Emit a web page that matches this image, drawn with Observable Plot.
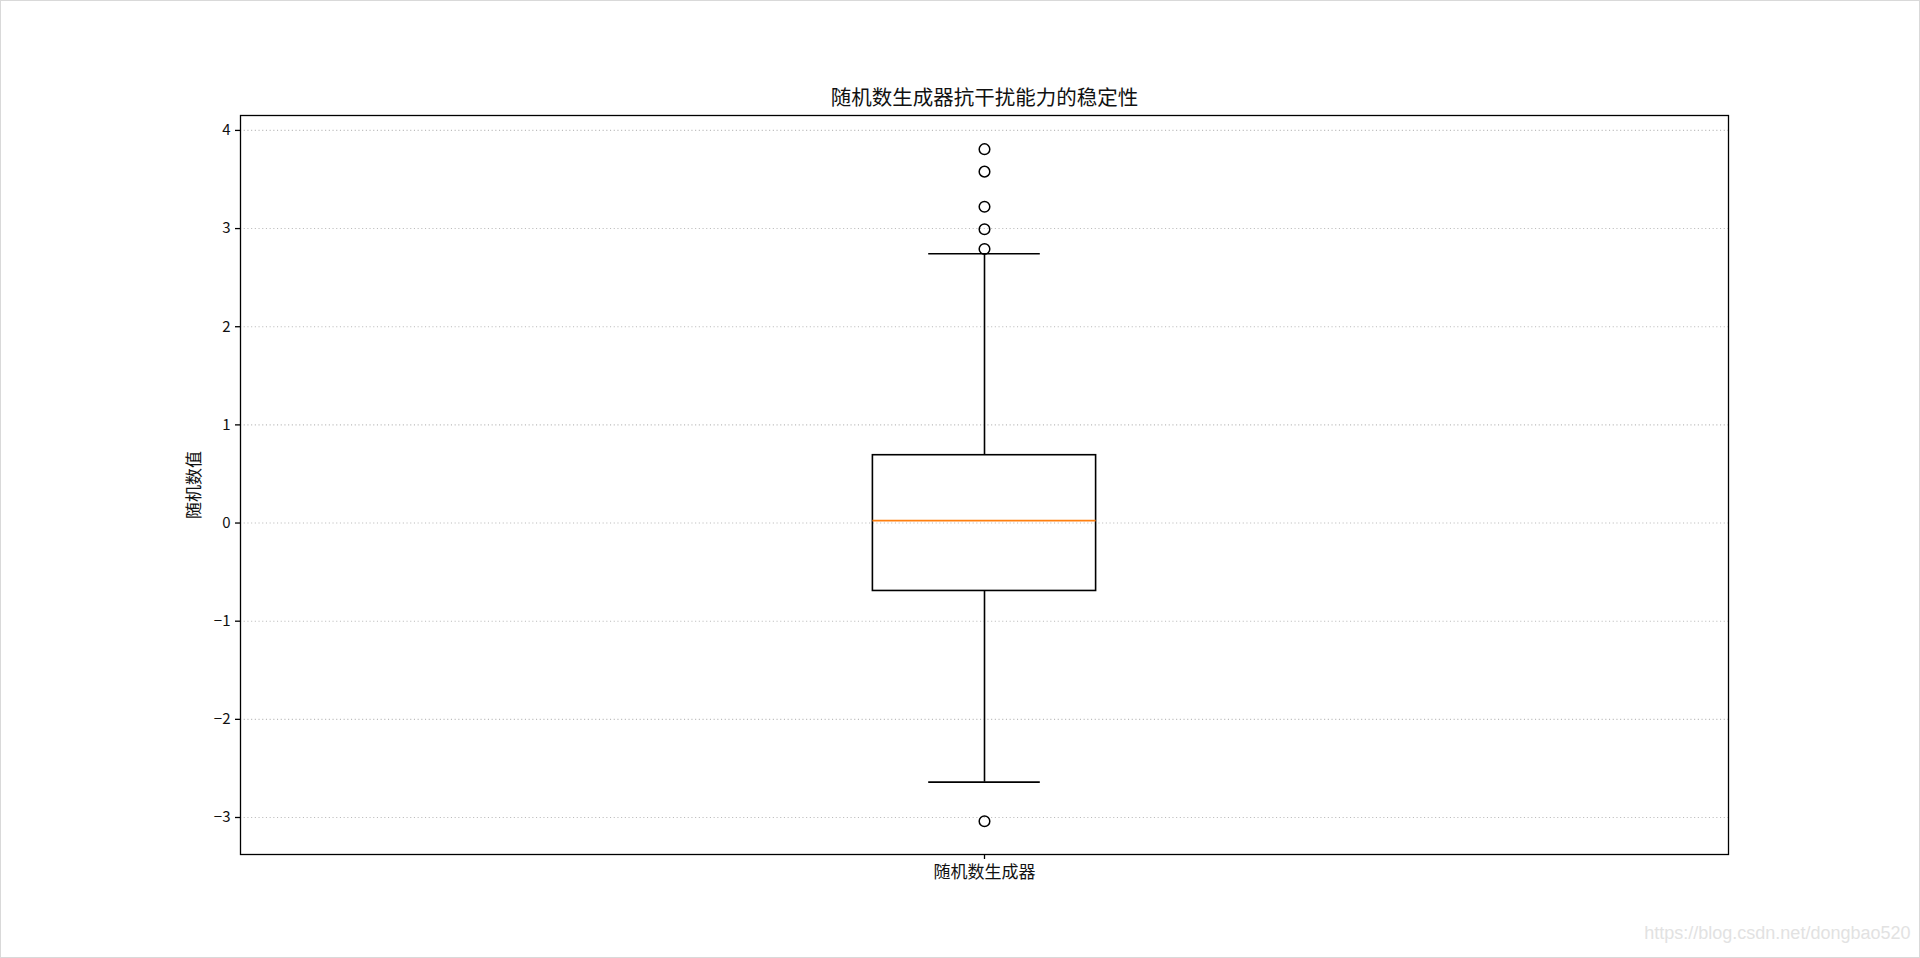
<!DOCTYPE html>
<html>
<head>
<meta charset="utf-8">
<script src="https://cdn.jsdelivr.net/npm/d3@7"></script>
<script src="https://cdn.jsdelivr.net/npm/@observablehq/plot@0.6"></script>
<style>
  html, body { margin: 0; padding: 0; background: #fff; }
  #chart svg { display: block; outline: 1px solid #d9d9d9; outline-offset: -1px; }
</style>
</head>
<body>
<div id="chart"></div>
<script>
// ---- data ----
const categories = ["随机数生成器"];
const positions = [1];
const lowerWhisker = [-2.64];
const q1 = [-0.692];
const median = [0.025];
const q3 = [0.691];
const upperWhisker = [2.744];
const outlierValues = [3.809, 3.58, 3.223, 2.993, 2.792, -3.038];
const yTicks = [-3, -2, -1, 0, 1, 2, 3, 4];

const titleText = "随机数生成器抗干扰能力的稳定性";
const yLabel = "随机数值";
const watermark = "https://blog.csdn.net/dongbao520";

// ---- table built from the arrays ----
const boxes = categories.map((c, i) => ({
  cat: c, pos: positions[i], lo: lowerWhisker[i], q1: q1[i],
  med: median[i], q3: q3[i], hi: upperWhisker[i]
}));
const outliers = outlierValues.map(v => ({pos: positions[0], y: v}));

const boxHalf = 0.075;   // box half-width (x units)
const capHalf = 0.0375;  // whisker cap half-width
const lw = 1.6;

const chart = Plot.plot({
  width: 1920,
  height: 958,
  marginTop: 115,
  marginBottom: 104,
  marginLeft: 240,
  marginRight: 192,
  style: {fontFamily: "'Noto Sans CJK SC', 'DejaVu Sans', sans-serif", fontSize: "15px", color: "#000", background: "#fff"},
  x: {
    type: "linear",
    domain: [0.5, 1.5],
    ticks: positions,
    tickFormat: (d) => categories[positions.indexOf(d)] ?? "",
    tickSize: 5,
    tickPadding: 6,
    label: null
  },
  y: {
    domain: [-3.377, 4.152],
    ticks: yTicks,
    tickSize: 5,
    tickPadding: 5,
    label: null
  },
  marks: [
    Plot.gridY(yTicks, {stroke: "#bcbcbc", strokeOpacity: 1, strokeWidth: 1.1, strokeDasharray: "1.1,2.6"}),
    Plot.axisY({ticks: yTicks, tickSize: 5, tickPadding: 5, fontSize: 15, stroke: "#000", fill: "#111", strokeWidth: 1.3, label: null}),
    Plot.axisX({ticks: positions, tickSize: 5, tickPadding: 6, fontSize: 17, stroke: "#000", fill: "#111", strokeWidth: 1.3,
                tickFormat: (d) => categories[positions.indexOf(d)] ?? "", label: null}),
    // y-axis label
    Plot.text([yLabel], {text: d => d, frameAnchor: "left", dx: -46, rotate: -90, textAnchor: "middle",
                         lineAnchor: "middle", fontSize: 17, fill: "#111"}),
    // whiskers
    Plot.ruleX(boxes, {x: "pos", y1: "q3", y2: "hi", stroke: "#000", strokeWidth: lw}),
    Plot.ruleX(boxes, {x: "pos", y1: "lo", y2: "q1", stroke: "#000", strokeWidth: lw}),
    // caps
    Plot.ruleY(boxes, {y: "hi", x1: d => d.pos - capHalf, x2: d => d.pos + capHalf, stroke: "#000", strokeWidth: lw}),
    Plot.ruleY(boxes, {y: "lo", x1: d => d.pos - capHalf, x2: d => d.pos + capHalf, stroke: "#000", strokeWidth: lw}),
    // box
    Plot.rect(boxes, {x1: d => d.pos - boxHalf, x2: d => d.pos + boxHalf, y1: "q1", y2: "q3",
                      fill: "none", stroke: "#000", strokeWidth: lw}),
    // median
    Plot.ruleY(boxes, {y: "med", x1: d => d.pos - boxHalf, x2: d => d.pos + boxHalf, stroke: "#ff7f0e", strokeWidth: lw}),
    // outliers
    Plot.dot(outliers, {x: "pos", y: "y", r: 5.3, stroke: "#000", fill: "none", strokeWidth: 1.5}),
    Plot.frame({stroke: "#000", strokeWidth: 1.3}),
    // title
    Plot.text([titleText], {text: d => d, frameAnchor: "top", dy: -17, fontSize: 20.5, fill: "#111", lineAnchor: "middle"}),
    // watermark
    Plot.text([watermark], {text: d => d, frameAnchor: "bottom-right", dx: 182, dy: 84, fontSize: 18,
                            fill: "#e2e2e2", textAnchor: "end", lineAnchor: "bottom",
                            fontFamily: "'Liberation Sans', Arial, sans-serif"})
  ]
});
document.getElementById("chart").appendChild(chart);
</script>
</body>
</html>
